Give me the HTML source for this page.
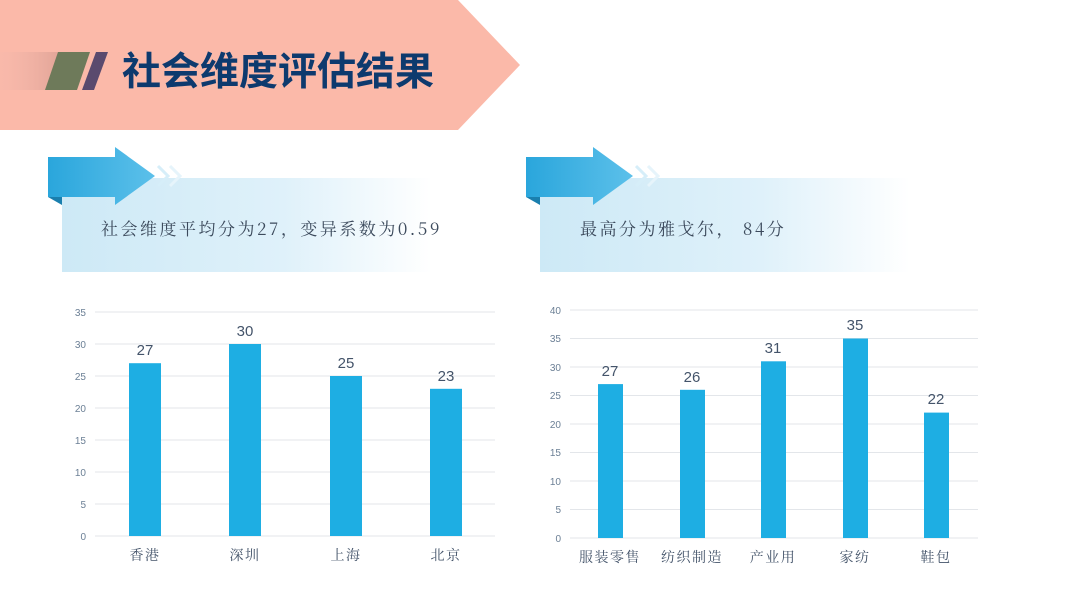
<!DOCTYPE html>
<html><head><meta charset="utf-8"><style>
body{margin:0;width:1080px;height:608px;background:#fff;overflow:hidden;position:relative;font-family:"Liberation Sans","Noto Sans CJK SC",sans-serif}
.abs{position:absolute}
</style></head><body>
<svg class="abs" style="left:0;top:0" width="1080" height="608">
<defs>
<linearGradient id="pg" x1="0" x2="1"><stop offset="0" stop-color="#cde9f6"/><stop offset="0.6" stop-color="#dff1fa"/><stop offset="1" stop-color="#ffffff"/></linearGradient>
<linearGradient id="ag" x1="0" x2="1"><stop offset="0" stop-color="#2aa6dc"/><stop offset="1" stop-color="#5cc0ea"/></linearGradient>
<linearGradient id="sg" x1="0" x2="1"><stop offset="0" stop-color="#f5b9ad" stop-opacity="0.3"/><stop offset="1" stop-color="#e0a396"/></linearGradient>
</defs>
<polygon points="0,0 458,0 520,65 458,130 0,130" fill="#fbb9a9"/>
<rect x="0" y="52" width="62" height="38" fill="url(#sg)"/>
<polygon points="58,52 90,52 77,90 45,90" fill="#6e7a5a"/>
<polygon points="96,52 108,52 94,90 82,90" fill="#5a4a6e"/>
<text x="122" y="85" font-size="39" font-weight="bold" fill="#0d3a6e" font-family="Liberation Sans,Noto Sans CJK SC,sans-serif">社会维度评估结果</text>

<g>
<rect x="62" y="178" width="370" height="94" fill="url(#pg)"/>
<polygon points="48,197 62,197 62,205" fill="#1a7fae"/>
<polygon points="48,157 115,157 115,147 155,176 115,205 115,197 48,197" fill="url(#ag)"/>
<polyline points="158,166 168,176 158,186" fill="none" stroke="#d6eef9" stroke-width="3"/>
<polyline points="170,166 180,176 170,186" fill="none" stroke="#e6f4fb" stroke-width="3"/>
<text x="101" y="235" font-size="17" letter-spacing="2.5" fill="#3c4a5c" font-family="Noto Serif CJK SC,serif">社会维度平均分为27，变异系数为0.59</text>
</g>
<g>
<rect x="540" y="178" width="370" height="94" fill="url(#pg)"/>
<polygon points="526,197 540,197 540,205" fill="#1a7fae"/>
<polygon points="526,157 593,157 593,147 633,176 593,205 593,197 526,197" fill="url(#ag)"/>
<polyline points="636,166 646,176 636,186" fill="none" stroke="#d6eef9" stroke-width="3"/>
<polyline points="648,166 658,176 648,186" fill="none" stroke="#e6f4fb" stroke-width="3"/>
<text x="580" y="235" font-size="17" letter-spacing="2.5" fill="#3c4a5c" font-family="Noto Serif CJK SC,serif">最高分为雅戈尔， 84分</text>
</g>

<g font-size="10" fill="#6b7f95" text-anchor="end">
<g stroke="#e3e6ea" stroke-width="1">
<line x1="95" x2="495" y1="312" y2="312"/><line x1="95" x2="495" y1="344" y2="344"/><line x1="95" x2="495" y1="376" y2="376"/><line x1="95" x2="495" y1="408" y2="408"/><line x1="95" x2="495" y1="440" y2="440"/><line x1="95" x2="495" y1="472" y2="472"/><line x1="95" x2="495" y1="504" y2="504"/><line x1="95" x2="495" y1="536" y2="536"/>
</g>
<text x="86" y="316">35</text><text x="86" y="348">30</text><text x="86" y="380">25</text><text x="86" y="412">20</text><text x="86" y="444">15</text><text x="86" y="476">10</text><text x="86" y="508">5</text><text x="86" y="540">0</text>
</g>
<g fill="#1eaee3">
<rect x="129" y="363.2" width="32" height="172.8"/><rect x="229" y="344" width="32" height="192"/><rect x="330" y="376" width="32" height="160"/><rect x="430" y="388.8" width="32" height="147.2"/>
</g>
<g font-size="15" fill="#44546a" text-anchor="middle">
<text x="145" y="355">27</text><text x="245" y="336">30</text><text x="346" y="368">25</text><text x="446" y="381">23</text>
</g>
<g font-size="14" fill="#44546a" text-anchor="middle" letter-spacing="1.5" font-family="Noto Serif CJK SC,serif">
<text x="145" y="560">香港</text><text x="245" y="560">深圳</text><text x="346" y="560">上海</text><text x="446" y="560">北京</text>
</g>

<g font-size="10" fill="#6b7f95" text-anchor="end">
<g stroke="#e3e6ea" stroke-width="1">
<line x1="570" x2="978" y1="310" y2="310"/><line x1="570" x2="978" y1="338.5" y2="338.5"/><line x1="570" x2="978" y1="367" y2="367"/><line x1="570" x2="978" y1="395.5" y2="395.5"/><line x1="570" x2="978" y1="424" y2="424"/><line x1="570" x2="978" y1="452.5" y2="452.5"/><line x1="570" x2="978" y1="481" y2="481"/><line x1="570" x2="978" y1="509.5" y2="509.5"/><line x1="570" x2="978" y1="538" y2="538"/>
</g>
<text x="561" y="314">40</text><text x="561" y="342">35</text><text x="561" y="371">30</text><text x="561" y="399">25</text><text x="561" y="428">20</text><text x="561" y="456">15</text><text x="561" y="485">10</text><text x="561" y="513">5</text><text x="561" y="542">0</text>
</g>
<g fill="#1eaee3">
<rect x="598" y="384.1" width="25" height="153.9"/><rect x="680" y="389.8" width="25" height="148.2"/><rect x="761" y="361.3" width="25" height="176.7"/><rect x="843" y="338.5" width="25" height="199.5"/><rect x="924" y="412.6" width="25" height="125.4"/>
</g>
<g font-size="15" fill="#44546a" text-anchor="middle">
<text x="610" y="376">27</text><text x="692" y="382">26</text><text x="773" y="353">31</text><text x="855" y="330">35</text><text x="936" y="404">22</text>
</g>
<g font-size="14" fill="#44546a" text-anchor="middle" letter-spacing="1.5" font-family="Noto Serif CJK SC,serif">
<text x="610" y="562">服装零售</text><text x="692" y="562">纺织制造</text><text x="773" y="562">产业用</text><text x="855" y="562">家纺</text><text x="936" y="562">鞋包</text>
</g>
</svg>
</body></html>
